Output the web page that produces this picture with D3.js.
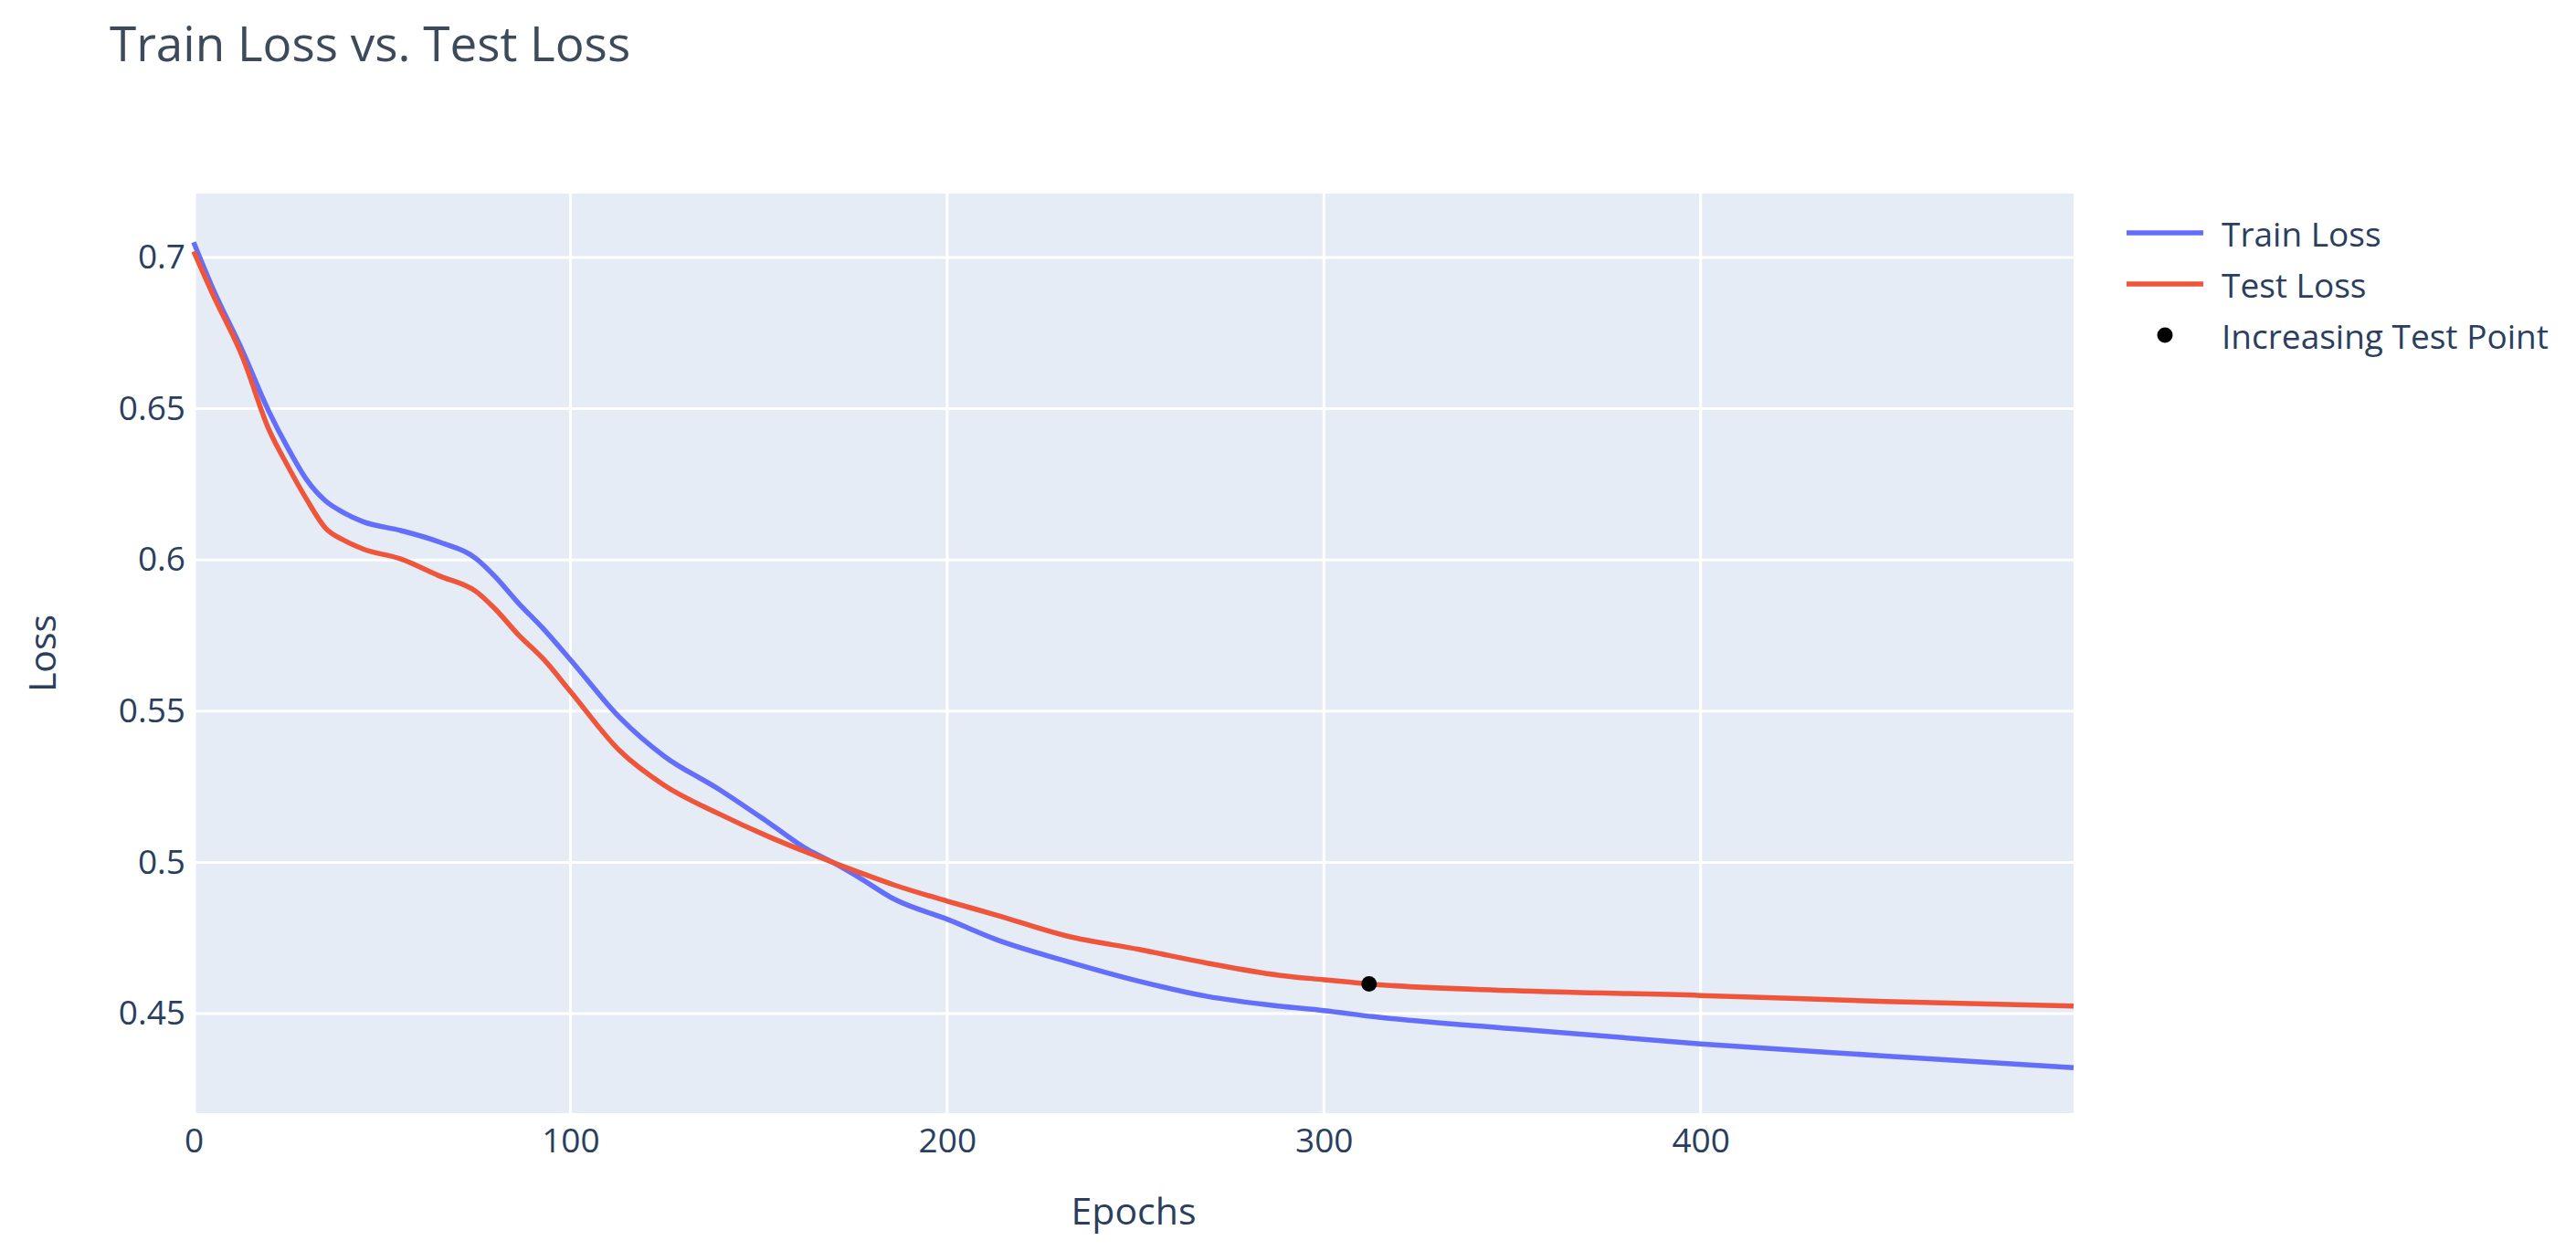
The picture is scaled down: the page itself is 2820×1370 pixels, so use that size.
<!DOCTYPE html>
<html>
<head>
<meta charset="utf-8">
<script src="https://cdn.jsdelivr.net/npm/d3@7"></script>
<style>
    body { margin: 0; background: #fff; }
    text { font-family: "Open Sans", "Noto Sans", sans-serif; fill: #2a3f5f; }
</style>
</head>
<body>
<div id="chart"></div>
<script>
// values
const epochs = [0, 5, 13, 20, 25, 30, 35, 40, 45, 55, 65, 75, 80, 86, 93, 100, 113, 125, 139, 153,
    163, 170, 176, 186, 200, 213, 232, 251, 269, 288, 300, 313, 350, 400, 449, 499];
const trainLoss = [0.705, 0.690, 0.669, 0.649, 0.637, 0.6265, 0.6195, 0.6155, 0.6126, 0.6097, 0.606, 0.6004,
    0.5945, 0.586, 0.577, 0.567, 0.548, 0.535, 0.5245, 0.5128, 0.5042, 0.4998, 0.4955, 0.4878, 0.4812,
    0.4745, 0.4672, 0.4607, 0.4557, 0.4525, 0.451, 0.449, 0.445, 0.440, 0.436, 0.4321];
const testLoss = [0.702, 0.688, 0.667, 0.643, 0.631, 0.620, 0.6105, 0.6064, 0.6036, 0.6003, 0.5948, 0.5895,
    0.5838, 0.5755, 0.567, 0.5565, 0.537, 0.5254, 0.5163, 0.5083, 0.5032, 0.4998, 0.497, 0.4925, 0.4872,
    0.4826, 0.4756, 0.4712, 0.4667, 0.4627, 0.4612, 0.4597, 0.4576, 0.456, 0.454, 0.4525];
const pointEpoch = [312];
const pointLoss = [0.4598];
const xTicks = [0, 100, 200, 300, 400];
const yTicks = [0.45, 0.5, 0.55, 0.6, 0.65, 0.7];
const seriesNames = ["Train Loss", "Test Loss", "Increasing Test Point"];

const width = 2820, height = 1370;
const margin = {top: 212, right: 550, bottom: 151, left: 212};
const w = width - margin.left - margin.right;
const h = height - margin.top - margin.bottom;

const svg = d3.select("#chart").append("svg")
    .attr("width", width)
    .attr("height", height)
    .style("display", "block");

svg.append("text")
    .attr("x", 120)
    .attr("y", 67)
    .style("font-size", "53px")
    .attr("fill", "#3d4a5c")
    .style("fill", "#3d4a5c")
    .text("Train Loss vs. Test Loss");

const g = svg.append("g")
    .attr("transform", "translate(" + margin.left + "," + margin.top + ")");

let x = d3.scaleLinear().domain([0, 499]).range([0, w]);
let y = d3.scaleLinear().domain([0.4171, 0.7211]).range([h, 0]);

g.append("rect")
    .attr("width", w)
    .attr("height", h)
    .attr("fill", "#E5ECF6");

// grid
g.append("g").selectAll("line")
    .data(xTicks)
    .enter().append("line")
    .attr("x1", d => x(d)).attr("x2", d => x(d))
    .attr("y1", 0).attr("y2", h)
    .attr("stroke", "#fff")
    .attr("stroke-width", d => d === 0 ? 5 : 3);

g.append("g").selectAll("line")
    .data(yTicks)
    .enter().append("line")
    .attr("x1", 0).attr("x2", w)
    .attr("y1", d => y(d)).attr("y2", d => y(d))
    .attr("stroke", "#fff")
    .attr("stroke-width", 3);

// axes (labels only)
let xAxis = g.append("g")
    .attr("transform", "translate(0," + h + ")")
    .call(d3.axisBottom(x).tickValues(xTicks).tickSize(0).tickPadding(17).tickFormat(d3.format("d")));
let yAxis = g.append("g")
    .call(d3.axisLeft(y).tickValues(yTicks).tickSize(0).tickPadding(9).tickFormat(d => String(d)));
[xAxis, yAxis].forEach(a => {
    a.select(".domain").remove();
    a.selectAll("text")
        .style("font-size", "37px")
        .style("font-family", "\"Open Sans\", \"Noto Sans\", sans-serif")
        .attr("fill", "#2a3f5f");
});

g.append("text")
    .attr("x", w / 2)
    .attr("y", 1325 - margin.top)
    .attr("text-anchor", "middle")
    .attr("dominant-baseline", "central")
    .style("font-size", "41px")
    .text("Epochs");

g.append("text")
    .attr("transform", "translate(" + (45 - margin.left) + "," + (h / 2) + ") rotate(-90)")
    .attr("text-anchor", "middle")
    .attr("dominant-baseline", "central")
    .style("font-size", "41px")
    .text("Loss");

// lines
const colors = ["#636EFA", "#EF553B"];
const line = d3.line()
    .x(d => x(d[0]))
    .y(d => y(d[1]))
    .curve(d3.curveMonotoneX);

[trainLoss, testLoss].forEach((vals, i) => {
    g.append("path")
        .datum(epochs.map((e, j) => [e, vals[j]]))
        .attr("fill", "none")
        .attr("stroke", colors[i])
        .attr("stroke-width", 5.5)
        .attr("stroke-linejoin", "round")
        .attr("d", line);
});

g.selectAll(".pt")
    .data(pointEpoch.map((e, j) => [e, pointLoss[j]]))
    .enter().append("circle")
    .attr("cx", d => x(d[0]))
    .attr("cy", d => y(d[1]))
    .attr("r", 8.5)
    .attr("fill", "#000");

// legend
const legend = svg.append("g");
const rowY = [255, 311, 367];
seriesNames.forEach((name, i) => {
    if (i < 2) {
        legend.append("line")
            .attr("x1", 2328).attr("x2", 2412)
            .attr("y1", rowY[i]).attr("y2", rowY[i])
            .attr("stroke", colors[i])
            .attr("stroke-width", 5.5);
    } else {
        legend.append("circle")
            .attr("cx", 2370).attr("cy", rowY[i])
            .attr("r", 8.5)
            .attr("fill", "#000");
    }
    legend.append("text")
        .attr("x", 2432)
        .attr("y", rowY[i])
        .attr("dominant-baseline", "central")
        .style("font-size", "37px")
        .text(name);
});
</script>
</body>
</html>
